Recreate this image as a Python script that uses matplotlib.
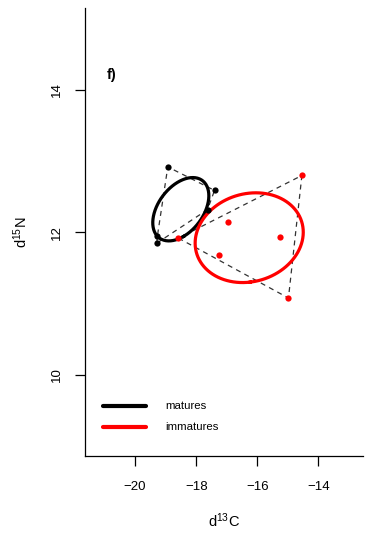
import numpy as np
import matplotlib
matplotlib.use("Agg")
import matplotlib.pyplot as plt

plt.rcParams['font.family'] = ['Liberation Sans', 'DejaVu Sans']
plt.rcParams['mathtext.fontset'] = 'custom'
plt.rcParams['mathtext.rm'] = 'Liberation Sans'
plt.rcParams['mathtext.it'] = 'Liberation Sans:italic'

# Data
group_names = ["matures", "immatures"]
group_colors = ["black", "red"]
mat_x = [-18.93, -17.40, -17.63, -19.27, -19.29]
mat_y = [12.92, 12.59, 12.32, 11.95, 11.85]
imm_x = [-14.54, -16.97, -15.25, -17.27, -18.58, -14.98]
imm_y = [12.80, 12.14, 11.94, 11.68, 11.92, 11.08]
x_ticks = [-20, -18, -16, -14]
y_ticks = [10, 12, 14]
panel_label = "f)"

groups = [(mat_x, mat_y), (imm_x, imm_y)]
small_sample = [False, True]


def convex_hull(xs, ys):
    pts = sorted(set(zip(xs, ys)))
    if len(pts) < 3:
        return pts

    def cross(o, a, b):
        return (a[0] - o[0]) * (b[1] - o[1]) - (a[1] - o[1]) * (b[0] - o[0])

    lower = []
    for p in pts:
        while len(lower) >= 2 and cross(lower[-2], lower[-1], p) <= 0:
            lower.pop()
        lower.append(p)
    upper = []
    for p in reversed(pts):
        while len(upper) >= 2 and cross(upper[-2], upper[-1], p) <= 0:
            upper.pop()
        upper.append(p)
    return lower[:-1] + upper[:-1]


def std_ellipse(xs, ys, correct=True, npts=200):
    x = np.asarray(xs)
    y = np.asarray(ys)
    n = len(x)
    cov = np.cov(x, y)
    vals, vecs = np.linalg.eigh(cov)
    scale = np.sqrt((n - 1) / (n - 2)) if correct else 1.0
    t = np.linspace(0, 2 * np.pi, npts)
    circ = np.vstack([np.cos(t), np.sin(t)])
    pts = vecs @ (np.sqrt(vals)[:, None] * circ) * scale
    return pts[0] + x.mean(), pts[1] + y.mean()


fig = plt.figure(figsize=(3.65, 5.34), dpi=100)
ax = fig.add_axes([85 / 365, 78 / 534, 278 / 365, 448 / 534])

for (xs, ys), col, corr in zip(groups, group_colors, small_sample):
    ax.plot(xs, ys, 'o', color=col, markersize=4.5, markeredgewidth=0, zorder=5)
    hull = convex_hull(xs, ys)
    hx = [p[0] for p in hull] + [hull[0][0]]
    hy = [p[1] for p in hull] + [hull[0][1]]
    ax.plot(hx, hy, color='#333333', lw=0.9, dashes=(4, 3.5), zorder=2)
    ex, ey = std_ellipse(xs, ys, corr)
    ax.plot(ex, ey, color=col, lw=2.3, zorder=4)

ax.set_xlim(-21.64, -12.54)
ax.set_ylim(8.863, 15.15)
ax.set_xticks(x_ticks)
ax.set_yticks(y_ticks)
ax.set_xticklabels([f"\u2212{abs(v)}" for v in x_ticks])
ax.set_yticklabels([str(v) for v in y_ticks], rotation=90, va='center')
ax.spines['top'].set_visible(False)
ax.spines['right'].set_visible(False)
for s in ['left', 'bottom']:
    ax.spines[s].set_linewidth(0.9)
ax.tick_params(axis='both', length=7, width=0.9, labelsize=9.5)
ax.tick_params(axis='x', pad=11)
ax.tick_params(axis='y', pad=9)

ax.set_xlabel(r"d$^{\mathregular{13}}$C", fontsize=10.5, labelpad=13)
ax.set_ylabel(r"d$^{\mathregular{15}}$N", fontsize=10.5, labelpad=15)

ax.text(112, 534 - 75, panel_label, transform=None, fontsize=10.5,
        fontweight='bold', ha='center', va='center')

# legend
leg_y = [406, 426.5]
for name, col, yy in zip(group_names, group_colors, leg_y):
    fig.add_artist(plt.Line2D([103 / 365, 146 / 365], [(534 - yy) / 534] * 2,
                              color=col, lw=3, solid_capstyle='round',
                              transform=fig.transFigure))
    fig.text(165 / 365, (534 - yy) / 534, name, fontsize=8.2,
             ha='left', va='center')

fig.savefig("out.png", dpi=100)
